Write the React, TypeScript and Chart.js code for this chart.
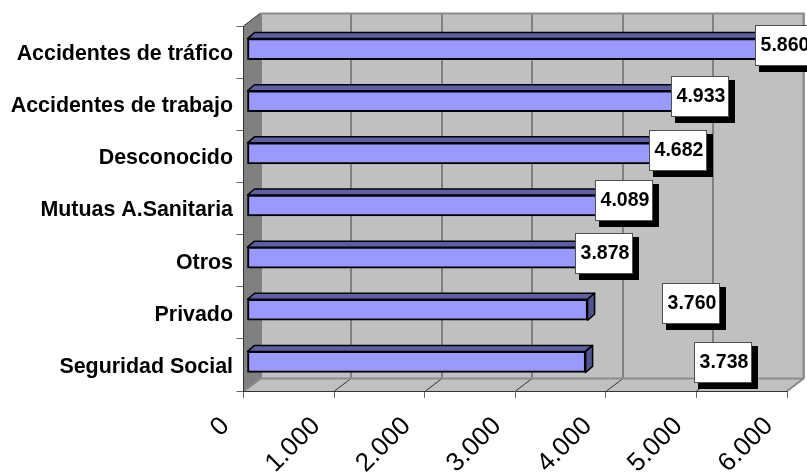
import React, { useEffect, useRef } from "react";
import { Chart, registerables } from "chart.js";

Chart.register(...registerables);

const categories = [
  "Accidentes de tráfico",
  "Accidentes de trabajo",
  "Desconocido",
  "Mutuas A.Sanitaria",
  "Otros",
  "Privado",
  "Seguridad Social",
];
const values = [5860, 4933, 4682, 4089, 3878, 3760, 3738];
const valueLabels = ["5.860", "4.933", "4.682", "4.089", "3.878", "3.760", "3.738"];
const xTickLabels = ["0", "1.000", "2.000", "3.000", "4.000", "5.000", "6.000"];
const labelOffsetX = [-19, -19, -19, -19, -20, 78, 112];
const labelOffsetY = [-6.5, -8, -6, -8.5, -7, -9, -2];

const WALL = { dx: 16.5, dy: -12.5 };
const BAR = { dx: 3.5, dy: -3, depthX: 7, depthY: -6 };

const FONT = "'Liberation Sans', Arial, sans-serif";

const threeD = {
  id: "threeD",
  beforeDraw(chart: any) {
    const { ctx, chartArea: a, scales } = chart;
    const { dx, dy } = WALL;
    ctx.save();
    // back wall
    ctx.fillStyle = "#C0C0C0";
    ctx.fillRect(a.left + dx, a.top + dy, a.right - a.left, a.bottom - a.top);
    // left wall
    ctx.fillStyle = "#808080";
    ctx.beginPath();
    ctx.moveTo(a.left, a.top);
    ctx.lineTo(a.left + dx, a.top + dy);
    ctx.lineTo(a.left + dx, a.bottom + dy);
    ctx.lineTo(a.left, a.bottom);
    ctx.closePath();
    ctx.fill();
    // floor
    ctx.fillStyle = "#C0C0C0";
    ctx.beginPath();
    ctx.moveTo(a.left, a.bottom);
    ctx.lineTo(a.left + dx, a.bottom + dy);
    ctx.lineTo(a.right + dx, a.bottom + dy);
    ctx.lineTo(a.right, a.bottom);
    ctx.closePath();
    ctx.fill();
    // back wall grid lines & floor grid lines
    const xs = scales.x;
    xs.ticks.forEach((t: any) => {
      const px = Math.round(xs.getPixelForValue(t.value)) + 0.5;
      ctx.strokeStyle = "#555555";
      ctx.lineWidth = 1.2;
      ctx.beginPath();
      ctx.moveTo(px + dx, a.top + dy);
      ctx.lineTo(px + dx, a.bottom + dy);
      ctx.stroke();
      ctx.strokeStyle = "#333333";
      ctx.lineWidth = 1;
      ctx.beginPath();
      ctx.moveTo(px, a.bottom);
      ctx.lineTo(px + dx, a.bottom + dy);
      ctx.stroke();
    });
    // back wall outline
    ctx.strokeStyle = "#8C8C8C";
    ctx.lineWidth = 2;
    ctx.beginPath();
    ctx.moveTo(a.left + dx, a.top + dy);
    ctx.lineTo(a.right + dx, a.top + dy);
    ctx.lineTo(a.right + dx, a.bottom + dy);
    ctx.lineTo(a.right, a.bottom);
    ctx.moveTo(a.left, a.bottom);
    ctx.lineTo(a.left + dx, a.bottom + dy);
    ctx.lineTo(a.right + dx, a.bottom + dy);
    ctx.stroke();
    ctx.strokeStyle = "#333333";
    ctx.lineWidth = 1;
    ctx.beginPath();
    ctx.moveTo(a.left, a.top);
    ctx.lineTo(a.left + dx, a.top + dy);
    ctx.stroke();
    ctx.restore();
  },
  beforeDatasetsDraw(chart: any) {
    const { ctx } = chart;
    const meta = chart.getDatasetMeta(0);
    ctx.save();
    ctx.translate(BAR.dx, BAR.dy);
    ctx.strokeStyle = "#000000";
    ctx.lineWidth = 1.5;
    ctx.lineJoin = "round";
    meta.data.forEach((el: any) => {
      const { x, y, base, height } = el.getProps(["x", "y", "base", "height"], true);
      const top = y - height / 2;
      const bottom = y + height / 2;
      ctx.fillStyle = "#5F5FA6";
      ctx.beginPath();
      ctx.moveTo(base, top);
      ctx.lineTo(base + BAR.depthX, top + BAR.depthY);
      ctx.lineTo(x + BAR.depthX, top + BAR.depthY);
      ctx.lineTo(x, top);
      ctx.closePath();
      ctx.fill();
      ctx.stroke();
      ctx.fillStyle = "#525290";
      ctx.beginPath();
      ctx.moveTo(x, top);
      ctx.lineTo(x + BAR.depthX, top + BAR.depthY);
      ctx.lineTo(x + BAR.depthX, bottom + BAR.depthY);
      ctx.lineTo(x, bottom);
      ctx.closePath();
      ctx.fill();
      ctx.stroke();
    });
    ctx.restore();
  },
  beforeDatasetDraw(chart: any) {
    chart.ctx.save();
    chart.ctx.translate(BAR.dx, BAR.dy);
  },
  afterDatasetDraw(chart: any) {
    chart.ctx.restore();
  },
  afterDatasetsDraw(chart: any) {
    const { ctx, scales } = chart;
    const w = 58;
    const h = 41;
    ctx.save();
    ctx.font = `bold 19.5px ${FONT}`;
    ctx.textAlign = "center";
    ctx.textBaseline = "middle";
    values.forEach((v, i) => {
      const left = Math.round(scales.x.getPixelForValue(v) + labelOffsetX[i]);
      const top = Math.round(scales.y.getPixelForValue(i) + labelOffsetY[i] - h / 2);
      ctx.fillStyle = "#000000";
      ctx.fillRect(left + 4, top + 4, w + 2, h + 2);
      ctx.fillStyle = "#FFFFFF";
      ctx.fillRect(left, top, w, h);
      ctx.strokeStyle = "#505050";
      ctx.lineWidth = 1;
      ctx.strokeRect(left + 0.5, top + 0.5, w - 1, h - 1);
      ctx.fillStyle = "#000000";
      ctx.fillText(valueLabels[i], left + w / 2 + 1, top + h / 2 + 0.5);
    });
    ctx.restore();
  },
};

export default function App() {
  const ref = useRef<HTMLCanvasElement>(null);
  useEffect(() => {
    const chart = new Chart(ref.current as HTMLCanvasElement, {
      type: "bar",
      data: {
        labels: categories,
        datasets: [
          {
            data: values,
            backgroundColor: "#9999FF",
            borderColor: "#000000",
            borderWidth: 2,
            borderSkipped: false,
            barThickness: 21,
          },
        ],
      },
      plugins: [threeD],
      options: {
        indexAxis: "y",
        animation: false,
        responsive: false,
        layout: { padding: { top: 26, right: 20, left: 0, bottom: 0 } },
        plugins: { legend: { display: false }, tooltip: { enabled: false }, title: { display: false } },
        scales: {
          x: {
            type: "linear",
            min: 0,
            max: 6000,
            afterFit(s: any) {
              s.height = 82;
              s.paddingLeft = 0;
              s.paddingRight = 0;
            },
            border: { display: true, color: "#333333", width: 1 },
            grid: { drawOnChartArea: false, drawTicks: true, tickLength: 7, tickColor: "#666666" },
            ticks: {
              stepSize: 1000,
              minRotation: 45,
              maxRotation: 45,
              padding: 13,
              labelOffset: -18,
              color: "#000000",
              font: { family: FONT, size: 26 },
              callback: (_v: any, i: number) => xTickLabels[i],
            },
          },
          y: {
            type: "category",
            afterFit(s: any) {
              s.width = 243.5;
              s.paddingTop = 0;
              s.paddingBottom = 0;
            },
            border: { display: true, color: "#333333", width: 1 },
            grid: { drawOnChartArea: false, drawTicks: true, tickLength: 7, tickColor: "#666666" },
            ticks: {
              padding: 3.5,
              labelOffset: 2,
              color: "#000000",
              font: { family: FONT, size: 21.4, weight: "bold" },
            },
          },
        },
      },
    } as any);
    return () => chart.destroy();
  }, []);
  return (
    <div style={{ position: "fixed", left: 0, top: 0, width: 807, height: 473, overflow: "hidden", background: "#fff" }}>
      <canvas ref={ref} width={807} height={473} style={{ display: "block" }} />
    </div>
  );
}
